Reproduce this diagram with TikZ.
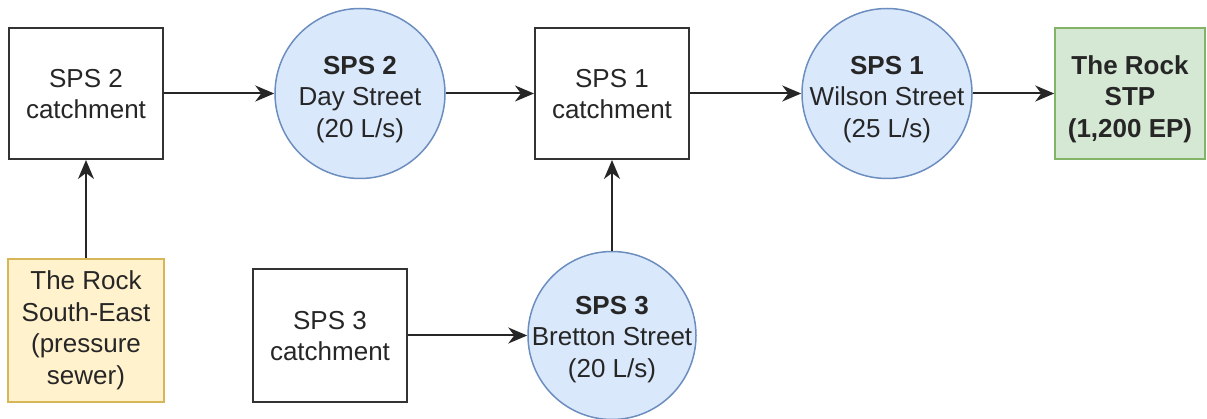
\documentclass[tikz,border=0pt]{standalone}
\usepackage{fontspec}
\setmainfont{Liberation Sans}
\usetikzlibrary{arrows.meta}
\definecolor{boxline}{HTML}{333333}
\definecolor{bluefill}{HTML}{DAE8FC}
\definecolor{blueline}{HTML}{6C8EBF}
\definecolor{greenfill}{HTML}{D5E8D4}
\definecolor{greenline}{HTML}{82B366}
\definecolor{yellowfill}{HTML}{FFF2CC}
\definecolor{yellowline}{HTML}{D6B656}
\definecolor{txt}{HTML}{262626}
\newcommand\mlines[2][0pt]{\raisebox{0pt}[\dimexpr\height+#1\relax][\depth]{\begin{tabular}{@{}c@{}}#2\end{tabular}}}
\tikzset{
  lbl/.style={align=center, inner sep=0pt, text=txt, font=\fontsize{26}{31.5}\selectfont},
  catch/.style={lbl, rectangle, draw=boxline, line width=2pt, fill=white, minimum width=154pt, minimum height=131pt},
  pump/.style={lbl, circle, inner sep=-25pt, draw=blueline, line width=1.5pt, fill=bluefill, minimum size=170pt},
  stp/.style={lbl, rectangle, draw=greenline, line width=1.5pt, fill=greenfill, minimum width=150pt, minimum height=131pt},
  src/.style={lbl, rectangle, draw=yellowline, line width=1.5pt, fill=yellowfill, minimum width=156pt, minimum height=143pt},
  flow/.style={draw=black!85, line width=2pt, -{Stealth[length=19pt,width=16pt,inset=6pt]}}
}
\begin{document}
\begin{tikzpicture}[x=1pt,y=-1pt]
\useasboundingbox (0,0) rectangle (1207,419);
\node[catch] (c2) at (86,93.5) {\mlines[6pt]{SPS 2\\catchment}};
\node[pump] (s2) at (360,93.5) {\mlines[12pt]{\textbf{SPS 2}\\Day Street\\(20 L/s)}};
\node[catch] (c1) at (612,93.5) {\mlines[6pt]{SPS 1\\catchment}};
\node[pump] (s1) at (887,93.5) {\mlines[12pt]{\textbf{SPS 1}\\Wilson Street\\(25 L/s)}};
\node[stp] (stp) at (1130,93.5) {\mlines[12pt]{\textbf{The Rock}\\\textbf{STP}\\\textbf{(1,200 EP)}}};
\node[src] (se) at (86,330.5) {\mlines{The Rock\\South-East\\(pressure\\sewer)}};
\node[catch, minimum height=133pt] (c3) at (330,335.5) {\mlines[6pt]{SPS 3\\catchment}};
\node[pump, minimum size=168pt] (s3) at (612,335.5) {\mlines[8pt]{\textbf{SPS 3}\\Bretton Street\\(20 L/s)}};
\draw[flow] (c2) -- (s2);
\draw[flow] (s2) -- (c1);
\draw[flow] (c1) -- (s1);
\draw[flow] (s1) -- (stp);
\draw[flow] (se) -- (c2);
\draw[flow] (c3) -- (s3);
\draw[flow] (s3) -- (c1);
\end{tikzpicture}
\end{document}
